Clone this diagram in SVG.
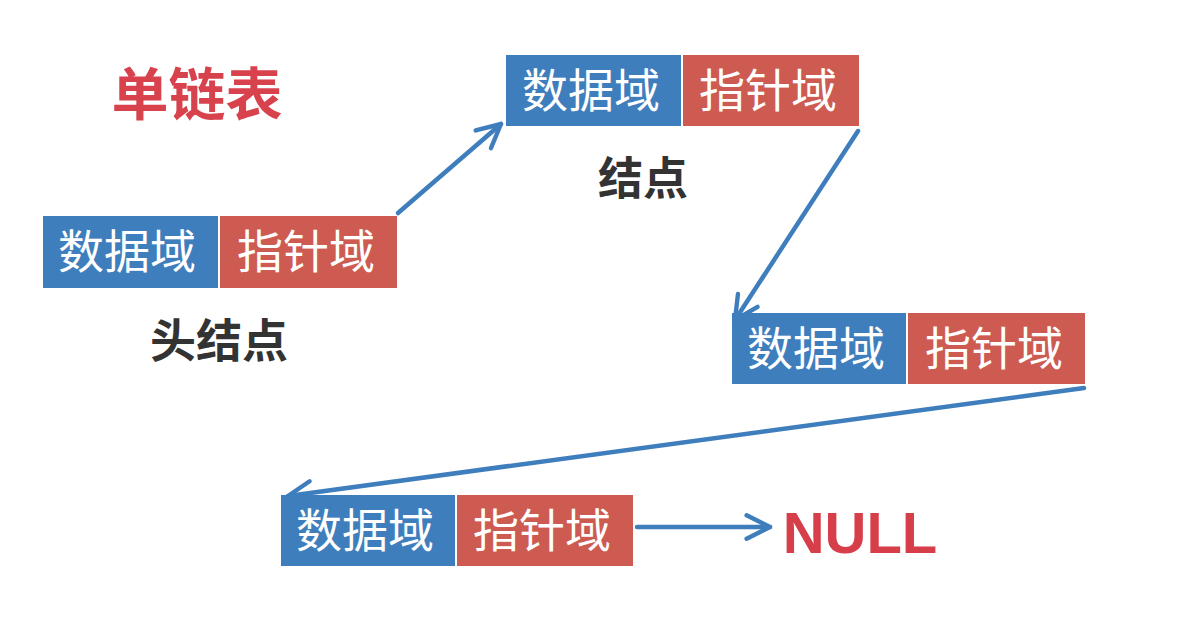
<svg xmlns="http://www.w3.org/2000/svg" width="1199" height="622" viewBox="0 0 1199 622">
<style>
.d{fill:#3F7EBD}
.p{fill:#CD5B51}
.bt{fill:#FFFFFF;font-family:"Noto Sans CJK SC",sans-serif;font-size:46px;text-anchor:middle}
.lbl{fill:#333333;font-family:"Noto Sans CJK SC",sans-serif;font-weight:bold;text-anchor:middle}
.conn{stroke:#3F7EBD;stroke-width:4.5;fill:none;stroke-linecap:round;stroke-linejoin:round}
</style>
<defs>
<marker id="ah" viewBox="0 0 10 10" refX="9" refY="5" markerWidth="6.5" markerHeight="6.5" markerUnits="strokeWidth" orient="auto">
<path d="M1,1 L9,5 L1,9" fill="none" stroke="#3F7EBD" stroke-width="1.5" stroke-linecap="round" stroke-linejoin="round"/>
</marker>
</defs>
<rect width="1199" height="622" fill="#FFFFFF"/>
<text x="197" y="115" font-family="'Noto Sans CJK SC',sans-serif" font-weight="bold" font-size="57" fill="#D8424D" text-anchor="middle">单链表</text>
<g id="head">
<rect class="d" x="43" y="216" width="175" height="72"/>
<rect class="p" x="220" y="216" width="177" height="72"/>
<text class="bt" x="127" y="268">数据域</text>
<text class="bt" x="306" y="268">指针域</text>
<text class="lbl" x="219" y="357" font-size="46">头结点</text>
</g>
<g id="node1">
<rect class="d" x="506" y="55" width="175" height="71"/>
<rect class="p" x="683" y="55" width="176" height="71"/>
<text class="bt" x="591" y="107">数据域</text>
<text class="bt" x="768" y="107">指针域</text>
<text class="lbl" x="643" y="195" font-size="45">结点</text>
</g>
<g id="node2">
<rect class="d" x="732" y="313" width="174" height="71"/>
<rect class="p" x="908" y="313" width="177" height="71"/>
<text class="bt" x="816" y="365">数据域</text>
<text class="bt" x="994" y="365">指针域</text>
</g>
<g id="node3">
<rect class="d" x="281" y="495" width="174" height="71"/>
<rect class="p" x="457" y="495" width="176" height="71"/>
<text class="bt" x="365" y="547">数据域</text>
<text class="bt" x="542" y="547">指针域</text>
</g>
<g id="null">
<text x="860" y="553" font-family="'Liberation Sans',sans-serif" font-weight="bold" font-size="58" fill="#D63E49" text-anchor="middle">NULL</text>
</g>
<g id="connectors">
<line class="conn" x1="398" y1="213" x2="501" y2="124" marker-end="url(#ah)"/>
<line class="conn" x1="858" y1="131" x2="735" y2="320" marker-end="url(#ah)"/>
<line class="conn" x1="1084" y1="388" x2="288" y2="496" marker-end="url(#ah)"/>
<line class="conn" x1="637" y1="527" x2="770" y2="527" marker-end="url(#ah)"/>
</g>
</svg>
